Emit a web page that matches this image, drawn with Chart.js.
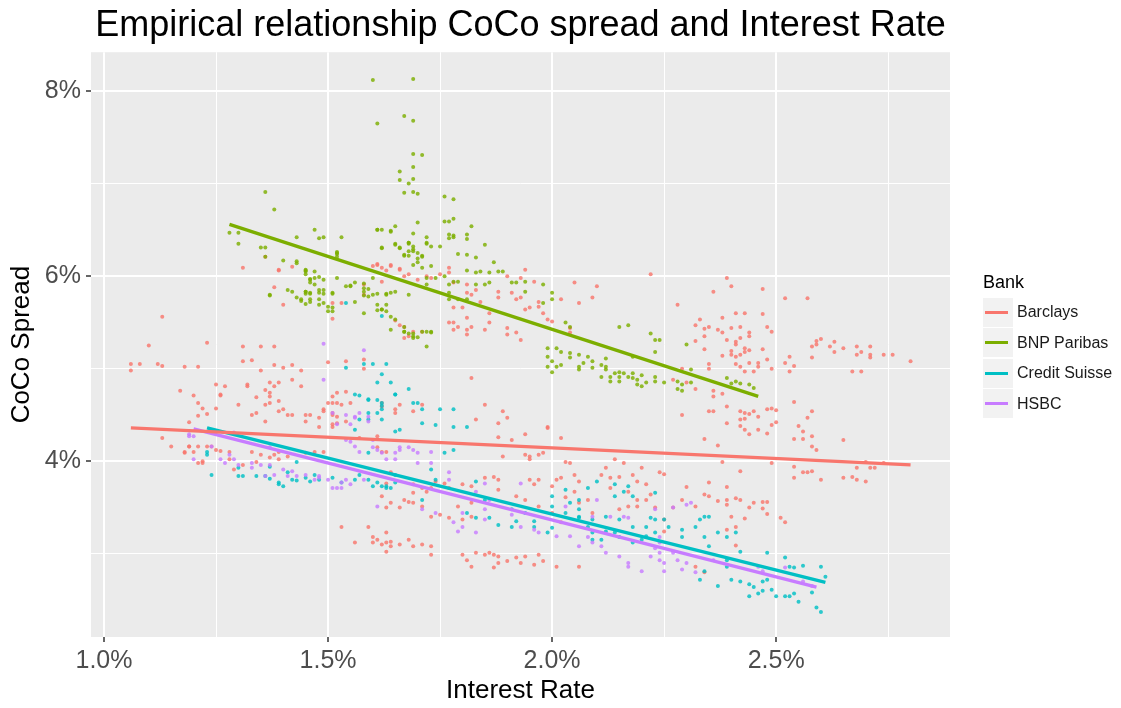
<!DOCTYPE html>
<html>
<head>
<meta charset="utf-8">
<title>CoCo spread and Interest Rate</title>
<script src="https://cdn.jsdelivr.net/npm/chart.js@4.4.1/dist/chart.umd.min.js"></script>
<style>
  html, body { margin: 0; padding: 0; background: #fff; }
  body { width: 1121px; height: 708px; position: relative; overflow: hidden; font-family: "Liberation Sans", Arial, sans-serif; }
  #wrap { position: absolute; left: 0; top: 0; width: 1121px; height: 708px; }
  #legend { position: absolute; left: 983px; top: 271px; }
  .legend-title { font-size: 18px; color: #000; height: 26px; line-height: 22px; }
  .legend-item { height: 30.5px; display: flex; align-items: center; }
  .legend-key { width: 30px; height: 29px; background: #F2F2F2; position: relative; margin-right: 4px; }
  .legend-key span { position: absolute; left: 2px; width: 23px; top: 13px; height: 3px; }
  .legend-label { font-size: 16px; color: #1a1a1a; }
</style>
</head>
<body>
<div id="wrap"><canvas id="cocoChart"></canvas></div>
<div id="legend"></div>
<script>
// axis ticks
const xTickValues = [1.0, 1.25, 1.5, 1.75, 2.0, 2.25, 2.5, 2.75];
const xTickLabels = ["1.0%", "", "1.5%", "", "2.0%", "", "2.5%", ""];
const yTickValues = [3, 4, 5, 6, 7, 8];
const yTickLabels = ["", "4%", "", "6%", "", "8%"];

const bankNames = ["Barclays", "BNP Paribas", "Credit Suisse", "HSBC"];
const bankColors = ["#F8766D", "#7CAE00", "#00BFC4", "#C77CFF"];
const pointColors = ["rgba(248,118,109,0.82)", "rgba(124,174,0,0.82)", "rgba(0,191,196,0.82)", "rgba(199,124,255,0.82)"];

// [interest rate %, coco spread %]
const barclaysPoints = [
  [1.13,5.56],[1.10,5.25],[1.06,5.05],[1.08,5.05],[1.06,4.98],[1.12,5.05],[1.13,5.03],[1.18,5.02],[1.21,5.02],[1.23,5.28],
  [1.17,4.76],[1.20,4.71],[1.21,4.63],[1.22,4.57],[1.23,4.51],[1.25,4.57],[1.21,4.49],[1.19,4.42],[1.25,4.83],[1.27,4.81],
  [1.26,4.71],[1.31,5.24],[1.31,5.08],[1.33,5.09],[1.35,5.24],[1.38,5.24],[1.38,5.04],[1.40,5.01],[1.42,5.04],[1.44,4.98],
  [1.35,4.98],[1.37,4.85],[1.38,4.81],[1.39,4.85],[1.42,4.88],[1.44,4.81],[1.36,4.77],[1.37,4.70],[1.32,4.81],[1.30,4.61],
  [1.34,4.69],[1.36,4.61],[1.37,4.63],[1.40,4.56],[1.42,4.50],[1.33,4.50],[1.36,4.43],[1.45,4.50],[1.46,4.50],[1.45,4.43],
  [1.48,4.47],[1.49,4.56],[1.50,4.63],[1.51,4.70],[1.52,4.63],[1.55,4.63],[1.54,4.75],[1.51,4.52],[1.52,4.48],[1.51,4.40],
  [1.51,5.71],[1.51,5.54],[1.40,5.69],[1.38,5.88],[1.31,6.09],[1.39,6.06],[1.42,6.10],[1.36,6.21],[1.54,5.08],[1.58,5.00],
  [1.61,6.12],[1.19,4.16],[1.20,4.10],[1.24,4.16],[1.25,4.12],[1.15,4.16],[1.13,4.25],[1.18,4.09],[1.22,4.00],[1.26,4.72],
  [1.32,4.83],[1.34,4.52],[1.37,4.74],[1.39,4.65],[1.39,4.54],[1.41,4.50],[1.48,4.37],[1.49,4.54],[1.51,4.63],[1.52,4.74],
  [1.53,4.61],[1.51,4.50],[1.18,4.10],[1.19,4.16],[1.21,4.16],[1.21,3.98],[1.22,3.98],[1.23,4.16],[1.26,4.11],[1.28,4.02],
  [1.28,4.10],[1.29,3.91],[1.31,3.96],[1.33,4.10],[1.34,3.99],[1.35,4.07],[1.37,4.04],[1.38,4.07],[1.39,4.02],[1.39,4.10],
  [1.41,4.05],[1.45,4.09],[1.47,4.10],[1.49,4.10],[1.51,4.37],[1.52,4.41],[1.54,4.43],[1.61,4.15],[1.62,3.62],[1.64,3.55],
  [1.59,3.29],[1.61,3.15],[1.63,3.12],[1.64,3.08],[1.60,3.12],[1.56,3.12],[1.63,3.02],[1.53,3.29],[1.60,3.18],[1.62,3.10],
  [1.63,3.23],[1.57,4.25],[1.61,4.27],[1.63,4.10],[1.66,4.61],[1.65,4.52],[1.69,4.54],[1.71,4.61],[1.83,4.45],[1.85,4.61],
  [1.88,4.41],[1.89,4.54],[1.90,4.47],[1.88,4.26],[1.91,4.23],[1.99,4.37],[2.02,4.25],[1.94,4.07],[1.95,4.05],[1.97,4.07],
  [1.98,4.09],[1.95,4.02],[1.89,4.05],[2.03,3.99],[2.04,3.98],[2.14,4.02],[2.16,3.98],[2.20,3.93],[2.24,3.88],[2.12,3.93],
  [2.11,3.85],[2.06,3.78],[2.05,3.85],[2.02,3.82],[2.01,3.80],[2.00,3.73],[1.97,3.80],[1.95,3.80],[1.96,3.75],[1.88,3.80],
  [1.87,3.83],[1.85,3.82],[1.82,3.73],[1.80,3.75],[1.77,3.71],[1.76,3.76],[1.74,3.78],[1.73,3.71],[1.72,3.67],[1.71,3.71],
  [1.69,3.75],[1.69,3.66],[1.67,3.58],[1.68,3.56],[1.69,3.55],[1.66,3.50],[1.71,3.51],[1.73,3.40],[1.75,3.42],[1.77,3.39],
  [1.80,3.37],[1.82,3.40],[1.82,3.55],[1.79,3.51],[1.88,3.69],[1.92,3.62],[1.94,3.58],[1.97,3.51],[2.00,3.44],[2.02,3.34],
  [2.09,3.44],[2.15,3.48],[2.17,3.51],[2.19,3.51],[2.21,3.58],[1.64,3.13],[1.66,3.10],[1.68,3.15],[1.69,3.08],[1.71,3.10],
  [1.73,2.99],[1.73,3.08],[1.80,2.99],[1.81,2.93],[1.83,3.01],[1.82,2.86],[1.85,2.99],[1.86,3.01],[1.87,2.99],[1.87,2.85],
  [1.88,2.90],[1.88,2.97],[1.90,2.92],[1.92,2.96],[1.93,2.90],[1.94,2.97],[1.96,2.88],[1.97,2.99],[1.98,2.92],[2.01,2.86],
  [2.06,2.86],[1.62,4.10],[1.64,3.88],[1.63,3.76],[1.63,3.50],[2.22,6.02],[2.39,5.98],[2.40,5.89],[2.36,5.83],[2.47,5.86],
  [2.28,5.69],[2.52,5.76],[2.57,5.76],[2.33,5.53],[2.38,5.55],[2.32,5.47],[2.34,5.43],[2.35,5.45],[2.37,5.42],[2.41,5.60],
  [2.43,5.60],[2.47,5.59],[2.40,5.44],[2.42,5.45],[2.44,5.39],[2.48,5.45],[2.49,5.40],[2.38,5.39],[2.34,5.35],[2.39,5.31],
  [2.42,5.33],[2.41,5.29],[2.41,5.26],[2.44,5.35],[2.32,5.30],[2.34,5.21],[2.40,5.19],[2.43,5.22],[2.44,5.20],[2.47,5.21],
  [2.38,5.14],[2.40,5.15],[2.41,5.13],[2.42,5.15],[2.43,5.18],[2.41,5.05],[2.42,5.02],[2.44,5.06],[2.46,5.06],[2.46,5.02],
  [2.45,4.97],[2.43,4.97],[2.48,5.10],[2.49,5.00],[2.35,5.05],[2.35,5.00],[2.58,5.24],[2.59,5.30],[2.60,5.32],[2.59,5.26],
  [2.62,5.24],[2.63,5.29],[2.65,5.22],[2.63,5.18],[2.68,5.24],[2.71,5.24],[2.69,5.18],[2.68,5.15],[2.71,5.12],[2.71,5.15],
  [2.74,5.15],[2.76,5.15],[2.80,5.08],[2.58,5.12],[2.53,5.13],[2.52,5.06],[2.54,5.03],[2.53,4.97],[2.67,4.97],[2.69,4.97],
  [2.29,5.00],[2.27,4.88],[2.30,4.85],[2.32,4.78],[2.36,4.70],[2.36,4.76],[2.38,4.73],[2.39,4.59],[2.35,4.54],[2.36,4.54],
  [2.29,4.50],[2.42,4.54],[2.43,4.52],[2.44,4.51],[2.45,4.54],[2.46,4.48],[2.42,4.45],[2.43,4.46],[2.48,4.56],[2.49,4.57],
  [2.50,4.55],[2.54,4.64],[2.58,4.54],[2.57,4.47],[2.39,4.41],[2.42,4.38],[2.49,4.39],[2.50,4.42],[2.55,4.38],[2.43,4.34],
  [2.44,4.29],[2.46,4.34],[2.48,4.30],[2.56,4.32],[2.54,4.24],[2.56,4.24],[2.58,4.27],[2.65,4.23],[2.34,4.24],[2.37,4.17],
  [2.58,4.16],[2.59,4.12],[2.38,3.99],[2.49,3.98],[2.54,3.94],[2.56,3.88],[2.57,3.88],[2.58,3.89],[2.54,3.82],[2.60,3.80],
  [2.65,3.82],[2.67,3.83],[2.68,3.80],[2.70,3.78],[2.68,3.93],[2.71,3.93],[2.72,3.93],[2.74,3.98],[2.70,3.99],[2.42,3.89],
  [2.25,3.86],[2.35,3.77],[2.30,3.72],[2.39,3.72],[2.34,3.64],[2.35,3.62],[2.37,3.57],[2.39,3.58],[2.39,3.53],[2.32,3.51],
  [2.41,3.60],[2.42,3.58],[2.44,3.50],[2.45,3.55],[2.47,3.56],[2.48,3.56],[2.47,3.49],[2.48,3.43],[2.43,3.38],[2.40,3.40],
  [2.41,3.29],[2.39,3.26],[2.51,3.39],[2.52,3.34],[2.41,3.09],[2.29,3.58],[2.27,3.50],[2.23,3.50],[2.25,3.37],[2.25,3.24],
  [2.34,2.80],[2.32,2.86],[1.39,6.07],[1.50,5.07],[1.58,5.10],[1.60,6.11],[1.61,6.13],[1.64,6.11],[1.62,6.09],[1.63,6.06],
  [1.66,6.08],[1.67,6.00],[1.68,6.02],[1.70,5.96],[1.72,6.00],[1.73,5.98],[1.77,6.09],[1.62,5.94],[1.58,5.91],[1.58,5.80],
  [1.53,5.71],[1.65,5.52],[1.66,5.47],[1.67,5.45],[1.67,5.33],[1.68,5.35],[1.71,5.40],[1.77,5.50],[1.64,6.12],[1.66,6.07],
  [1.75,6.02],[1.77,6.04],[1.78,5.93],[1.81,5.91],[1.83,5.85],[1.81,5.82],[1.82,5.80],[1.84,5.72],[1.80,5.66],[1.78,5.66],
  [1.86,5.60],[1.88,5.83],[1.88,5.77],[1.90,6.00],[1.91,5.82],[1.92,5.75],[1.94,6.07],[1.93,5.98],[1.96,5.94],[1.93,5.77],
  [1.94,5.64],[1.95,5.66],[1.97,5.67],[1.97,5.72],[1.98,5.60],[1.99,5.53],[2.00,5.51],[2.02,5.75],[2.05,5.93],[2.06,5.71],
  [2.09,5.77],[2.10,5.89],[2.04,5.44],[2.04,5.39],[1.92,5.39],[1.90,5.37],[1.93,5.31],[1.90,5.44],[1.85,5.42],[1.82,5.45],
  [1.81,5.42],[1.81,5.37],[1.79,5.45],[1.78,5.42],[1.78,5.50],[1.81,5.55],[1.86,5.50],[1.69,5.40],[1.82,4.90],[1.62,4.63],
  [1.65,4.56],[1.62,4.59],[1.94,4.29],[1.99,4.36],[2.13,3.82],[2.15,3.83],[2.18,3.85],[2.19,3.78],[2.21,3.75],[2.13,3.71],
  [2.17,3.67],[2.19,3.58],[2.22,3.64],[2.05,3.67],[2.03,3.61],[2.06,3.55],[2.08,3.58]
];

const bnpPoints = [
  [1.60,8.12],[1.69,8.13],[1.67,7.73],[1.69,7.68],[1.61,7.65],[1.69,7.32],[1.71,7.31],[1.66,7.13],[1.69,7.18],[1.66,7.04],
  [1.68,7.00],[1.69,7.05],[1.67,6.90],[1.69,6.91],[1.70,6.89],[1.76,6.86],[1.77,6.59],[1.70,6.58],[1.65,6.54],[1.61,6.50],
  [1.64,6.48],[1.47,6.50],[1.48,6.41],[1.49,6.42],[1.53,6.42],[1.69,6.46],[1.72,6.35],[1.73,6.32],[1.75,6.32],[1.77,6.41],
  [1.62,6.30],[1.65,6.34],[1.66,6.30],[1.66,6.31],[1.68,6.27],[1.68,6.35],[1.69,6.32],[1.67,6.22],[1.68,6.22],[1.69,6.27],
  [1.70,6.19],[1.71,6.22],[1.69,6.12],[1.71,6.09],[1.52,6.24],[1.52,6.21],[1.45,6.06],[1.47,6.05],[1.45,6.02],[1.47,5.98],
  [1.46,5.96],[1.47,5.91],[1.49,5.96],[1.45,5.83],[1.45,5.81],[1.46,5.81],[1.48,5.85],[1.49,5.81],[1.44,5.75],[1.45,5.70],
  [1.46,5.75],[1.48,5.75],[1.48,5.69],[1.50,5.67],[1.50,5.62],[1.51,5.66],[1.51,5.81],[1.52,5.98],[1.55,5.90],[1.56,5.93],
  [1.56,5.72],[1.58,5.92],[1.58,5.87],[1.58,5.79],[1.58,5.60],[1.59,5.86],[1.60,5.98],[1.60,5.80],[1.61,5.81],[1.61,5.69],
  [1.61,5.63],[1.63,5.62],[1.64,5.56],[1.64,5.42],[1.63,5.81],[1.64,5.82],[1.65,5.83],[1.68,5.80],[1.67,5.40],[1.68,5.38],
  [1.69,5.33],[1.69,5.38],[1.72,5.40],[1.73,5.40],[1.72,5.24],[1.72,5.91],[1.72,5.98],[1.74,5.98],[1.76,6.00],[1.77,5.91],
  [1.72,6.42],[1.77,6.45],[1.78,6.42],[1.81,6.45],[1.81,6.40],[1.85,6.34],[1.79,6.24],[1.81,6.23],[1.83,6.20],[1.87,6.15],
  [1.62,6.31],[1.65,6.35],[1.68,6.36],[1.69,6.29],[1.67,6.23],[1.70,6.25],[1.71,6.21],[1.70,6.15],[1.73,6.11],[1.81,6.06],
  [1.83,6.04],[1.84,6.05],[1.86,6.04],[1.88,6.05],[1.89,6.05],[1.78,5.94],[1.79,5.94],[1.83,5.91],[1.85,5.91],[1.86,5.93],
  [1.91,5.93],[1.92,5.93],[1.94,5.94],[1.94,5.83],[1.98,5.91],[2.00,5.82],[1.98,5.71],[1.77,5.82],[1.77,5.75],[1.79,5.75],
  [1.81,5.75],[1.63,5.80],[1.63,5.69],[1.62,5.64],[1.65,5.53],[1.67,5.45],[1.67,5.40],[1.69,5.35],[1.70,5.34],[1.71,5.40],
  [1.73,5.39],[2.00,5.75],[2.03,5.50],[2.04,5.45],[1.99,5.22],[2.01,5.22],[2.02,5.18],[2.04,5.17],[1.99,5.13],[2.00,5.08],
  [1.99,5.02],[2.01,5.02],[2.02,5.04],[2.00,4.96],[2.04,5.12],[2.06,5.15],[2.08,5.13],[2.07,5.06],[2.06,5.02],[2.06,4.99],
  [2.09,5.08],[2.09,5.01],[2.11,5.04],[2.12,4.99],[2.12,5.02],[2.11,4.91],[2.13,4.91],[2.14,4.95],[2.15,4.91],[2.15,4.96],
  [2.16,4.95],[2.17,4.91],[2.18,4.90],[2.18,4.95],[2.19,4.88],[2.20,4.93],[2.21,4.85],[2.23,4.91],[2.23,4.86],[2.15,5.45],
  [2.17,5.47],[2.22,5.38],[2.23,5.31],[2.12,5.11],[2.18,5.13],[2.13,4.86],[2.15,4.86],[2.19,4.83],[2.20,4.81],[2.24,5.31],
  [2.23,5.18],[2.30,5.26],[2.25,4.85],[2.28,4.86],[2.29,4.83],[2.28,4.78],[2.31,4.99],[2.31,4.85],[2.39,4.90],[2.40,4.84],
  [2.41,4.86],[2.42,4.84],[2.44,4.83],[2.45,4.79],[2.29,4.76],[1.36,6.21],[1.40,6.17],[1.43,6.14],[1.45,6.05],[1.46,5.97],
  [1.48,5.99],[1.46,5.93],[1.41,5.85],[1.42,5.83],[1.37,5.80],[1.45,5.83],[1.46,5.82],[1.48,5.82],[1.49,5.85],[1.43,5.77],
  [1.44,5.73],[1.46,5.72],[1.49,5.71],[1.51,5.62],[1.51,5.82],[1.55,5.89],[1.58,5.83],[1.59,5.78],[1.62,5.64],[1.52,6.25],
  [1.36,6.91],[1.38,6.72],[1.28,6.47],[1.30,6.47],[1.30,6.35],[1.35,6.31],[1.36,6.31],[1.43,6.42],[1.61,6.50],[1.43,6.16],
  [1.37,5.79],[1.45,6.07],[1.52,6.26],[1.54,5.89],[1.78,6.83],[1.76,6.59],[1.78,6.62],[1.82,6.54],[1.78,6.44],[1.64,6.49],
  [1.62,6.50],[1.72,6.36],[1.68,6.36]
];

const csPoints = [
  [1.54,5.01],[1.58,5.05],[1.60,5.05],[1.63,5.05],[1.61,4.85],[1.57,4.71],[1.59,4.67],[1.62,4.60],[1.61,4.52],[1.59,4.45],
  [1.62,4.45],[1.62,5.57],[1.54,5.71],[1.62,4.94],[1.64,4.85],[1.65,4.72],[1.68,4.78],[1.70,4.63],[1.71,4.56],[1.75,4.56],
  [1.78,4.56],[1.62,4.63],[1.69,4.63],[1.71,4.41],[1.74,4.39],[1.78,4.37],[1.81,4.37],[1.66,4.34],[1.76,4.09],[1.78,4.12],
  [1.73,3.91],[1.74,3.80],[1.83,3.78],[1.64,3.71],[1.71,3.58],[1.81,3.44],[1.86,3.39],[1.88,3.31],[1.91,3.29],[1.92,3.35],
  [1.96,3.29],[2.00,3.62],[2.04,3.55],[2.03,3.69],[2.08,3.71],[2.10,3.78],[2.14,3.75],[2.16,3.67],[2.17,3.73],[2.18,3.62],
  [2.06,3.48],[2.08,3.29],[2.09,3.23],[2.11,3.15],[2.12,3.24],[2.14,3.23],[2.15,3.18],[2.18,3.12],[2.20,3.15],[2.21,3.29],
  [2.22,3.39],[2.23,3.23],[1.99,3.23],[1.83,3.39],[1.96,3.35],[2.00,3.28],[2.06,3.40],[2.09,3.37],[2.23,3.66],[2.23,3.37],
  [2.25,3.37],[2.26,3.29],[2.29,3.26],[2.29,3.18],[2.32,3.29],[2.33,3.37],[2.34,3.40],[2.35,3.40],[2.34,3.18],[2.35,3.08],
  [2.37,3.23],[2.39,3.18],[2.41,3.23],[2.42,3.02],[2.39,2.93],[2.39,2.86],[2.40,2.72],[2.37,2.65],[2.42,2.70],[2.44,2.67],
  [2.45,2.64],[2.46,2.57],[2.44,2.54],[2.47,2.70],[2.48,2.72],[2.47,2.60],[2.49,2.61],[2.50,2.54],[2.52,2.54],[2.53,2.54],
  [2.54,2.57],[2.55,2.48],[2.52,2.96],[2.48,3.01],[2.53,2.86],[2.54,2.85],[2.56,2.87],[2.60,2.86],[2.58,2.58],[2.61,2.75],
  [2.59,2.42],[2.60,2.37],[2.34,2.81],[2.33,2.72],[1.23,4.10],[1.23,4.07],[1.24,3.85],[1.30,3.93],[1.31,3.84],[1.34,3.84],
  [1.36,3.84],[1.37,3.81],[1.39,3.77],[1.39,3.75],[1.40,3.73],[1.42,3.80],[1.43,3.79],[1.45,3.82],[1.47,3.85],[1.48,3.80],
  [1.51,3.82],[1.53,3.77],[1.56,3.80],[1.57,3.85],[1.59,3.80],[1.60,3.73],[1.62,3.73],[1.63,3.73],[1.65,3.77],[1.37,3.94],
  [1.41,3.88],[1.43,3.99],[1.56,4.72],[1.59,4.66],[1.61,4.66],[1.62,4.56],[1.59,4.52],[1.57,4.45],[1.56,4.34],[1.65,4.72],
  [1.65,4.32],[1.59,4.09],[1.65,3.85],[1.30,3.84],[1.46,3.78],[1.61,3.77],[1.63,3.71],[1.85,3.58],[1.91,3.48],[1.94,3.44],
  [2.00,3.51],[2.03,3.44],[2.06,3.39],[2.12,3.40],[2.15,3.37],[2.18,3.29],[2.21,3.19],[2.09,3.15],[2.06,3.58],[2.14,3.62]
];

const hsbcPoints = [
  [1.19,4.27],[1.20,4.02],[1.26,4.02],[1.27,3.98],[1.30,3.96],[1.33,3.93],[1.35,3.96],[1.37,3.96],[1.38,3.85],[1.40,3.91],
  [1.41,3.84],[1.43,3.84],[1.45,3.85],[1.47,3.80],[1.48,3.84],[1.50,3.80],[1.51,3.71],[1.52,3.71],[1.53,3.71],[1.54,3.80],
  [1.55,3.75],[1.58,3.80],[1.61,3.51],[1.29,4.31],[1.37,4.15],[1.51,4.52],[1.54,4.50],[1.55,4.40],[1.56,4.47],[1.57,4.52],
  [1.59,4.48],[1.59,4.43],[1.60,4.15],[1.61,4.12],[1.63,4.02],[1.65,4.02],[1.66,4.15],[1.54,4.23],[1.56,4.16],[1.57,4.10],
  [1.49,5.27],[1.58,5.20],[1.49,4.88],[1.52,4.40],[1.56,4.48],[1.60,4.23],[1.55,4.21],[1.19,4.29],[1.28,4.07],[1.62,4.09],
  [1.65,4.09],[1.68,4.15],[1.69,4.12],[1.70,4.09],[1.73,4.10],[1.70,3.98],[1.74,3.44],[1.78,3.34],[1.80,3.29],[1.79,3.24],
  [1.83,3.23],[1.85,3.37],[1.85,3.48],[1.91,3.42],[1.93,3.29],[1.96,3.26],[1.97,3.23],[2.01,3.19],[2.04,3.19],[2.06,3.08],
  [2.08,3.18],[2.09,3.12],[2.11,3.08],[2.12,3.01],[2.15,2.97],[2.17,2.90],[2.17,2.86],[2.20,2.81],[2.22,2.97],[2.24,3.12],
  [1.86,3.58],[1.80,3.44],[1.93,3.76],[2.03,3.51],[2.10,3.58],[2.16,3.40],[2.17,3.39],[2.23,3.48],[2.09,3.40],[2.13,3.40],
  [1.85,3.76],[1.83,3.67],[2.27,3.50],[2.30,3.53],[2.31,3.55],[2.23,3.06],[2.24,3.01],[2.24,2.93],[2.25,2.90],[2.25,2.81],
  [2.27,3.01],[2.28,2.93],[2.29,2.83],[2.30,2.90],[2.32,2.80],[2.36,2.93],[2.46,2.86],[2.47,2.81],[2.52,2.85],[2.56,2.70],
  [2.58,2.65],[2.24,3.18],[1.20,4.27],[1.24,4.16],[1.29,4.02],[1.33,3.98],[1.36,3.84],[1.42,3.89],[1.48,3.82],[1.53,3.77],
  [1.66,4.12],[1.77,3.88],[1.77,3.80],[1.73,3.98],[1.71,3.48]
];

// linear fit end points
const barclaysFit = [[1.06, 4.36], [2.80, 3.96]];
const bnpFit = [[1.28, 6.56], [2.46, 4.70]];
const csFit = [[1.23, 4.36], [2.61, 2.69]];
const hsbcFit = [[1.20, 4.35], [2.59, 2.64]];

const allPoints = [barclaysPoints, bnpPoints, csPoints, hsbcPoints];
const allFits = [barclaysFit, bnpFit, csFit, hsbcFit];

const toXY = (arr) => arr.map((p) => ({ x: p[0], y: p[1] }));

const datasets = [];

// fitted lines on top
allFits.forEach((fit, i) => {
  datasets.push({
    label: bankNames[i] + " fit",
    data: toXY(fit),
    showLine: true,
    borderColor: bankColors[i],
    borderWidth: 3.4,
    pointRadius: 0,
    order: 1 + i
  });
});

allPoints.forEach((pts, i) => {
  datasets.push({
    label: bankNames[i],
    data: toXY(pts),
    pointRadius: 2,
    pointBorderWidth: 0,
    pointBackgroundColor: pointColors[i],
    pointBorderColor: pointColors[i],
    order: 20 - i
  });
});

const panelBackground = {
  id: "panelBackground",
  beforeDraw(chart) {
    const { ctx, chartArea } = chart;
    ctx.save();
    ctx.fillStyle = "#EBEBEB";
    ctx.fillRect(chartArea.left, chartArea.top, chartArea.right - chartArea.left, chartArea.bottom - chartArea.top);
    ctx.restore();
  }
};

const fontFamily = '"Liberation Sans", Arial, sans-serif';

function isMajorX(v) {
  return xTickLabels[xTickValues.indexOf(v)] !== "";
}
function isMajorY(v) {
  return yTickLabels[yTickValues.indexOf(v)] !== "";
}

new Chart(document.getElementById("cocoChart"), {
  type: "scatter",
  data: { datasets: datasets },
  plugins: [panelBackground],
  options: {
    responsive: true,
    maintainAspectRatio: false,
    animation: false,
    layout: { padding: { left: 0, right: 171, top: 0, bottom: 0 } },
    plugins: {
      legend: { display: false },
      tooltip: { enabled: false },
      title: {
        display: true,
        text: "Empirical relationship CoCo spread and Interest Rate",
        fullSize: false,
        color: "#000",
        font: { family: fontFamily, size: 36, weight: "normal" },
        padding: { top: 4, bottom: 5 }
      }
    },
    scales: {
      x: {
        type: "linear",
        min: 0.971,
        max: 2.888,
        afterBuildTicks: (scale) => {
          scale.ticks = xTickValues.map((v) => ({ value: v }));
        },
        afterFit: (scale) => {
          scale.height = 71;
        },
        border: { display: false },
        grid: {
          color: "#FFFFFF",
          lineWidth: (ctx) => (ctx.tick && isMajorX(ctx.tick.value) ? 2 : 1),
          tickColor: (ctx) => (ctx.tick && isMajorX(ctx.tick.value) ? "#333333" : "rgba(0,0,0,0)"),
          tickLength: 5,
          tickWidth: 1.5
        },
        ticks: {
          autoSkip: false,
          maxRotation: 0,
          padding: 4,
          color: "#4D4D4D",
          font: { family: fontFamily, size: 25 },
          callback: (value) => xTickLabels[xTickValues.indexOf(value)]
        },
        title: {
          display: true,
          text: "Interest Rate",
          color: "#000",
          font: { family: fontFamily, size: 26 },
          padding: { top: 0, bottom: 2 }
        }
      },
      y: {
        type: "linear",
        min: 2.1,
        max: 8.42,
        afterBuildTicks: (scale) => {
          scale.ticks = yTickValues.map((v) => ({ value: v }));
        },
        afterFit: (scale) => {
          scale.width = 91;
        },
        border: { display: false },
        grid: {
          color: "#FFFFFF",
          lineWidth: (ctx) => (ctx.tick && isMajorY(ctx.tick.value) ? 2 : 1),
          tickColor: (ctx) => (ctx.tick && isMajorY(ctx.tick.value) ? "#333333" : "rgba(0,0,0,0)"),
          tickLength: 5,
          tickWidth: 1.5
        },
        ticks: {
          padding: 5,
          color: "#4D4D4D",
          font: { family: fontFamily, size: 25 },
          callback: (value) => yTickLabels[yTickValues.indexOf(value)]
        },
        title: {
          display: true,
          text: "CoCo Spread",
          color: "#000",
          font: { family: fontFamily, size: 26 },
          padding: { top: 6, bottom: 0 }
        }
      }
    }
  }
});

// legend
const legendEl = document.getElementById("legend");
const legendTitle = document.createElement("div");
legendTitle.className = "legend-title";
legendTitle.textContent = "Bank";
legendEl.appendChild(legendTitle);

bankNames.forEach((name, i) => {
  const item = document.createElement("div");
  item.className = "legend-item";

  const key = document.createElement("div");
  key.className = "legend-key";
  const line = document.createElement("span");
  line.style.background = bankColors[i];
  key.appendChild(line);

  const label = document.createElement("div");
  label.className = "legend-label";
  label.textContent = name;

  item.appendChild(key);
  item.appendChild(label);
  legendEl.appendChild(item);
});
</script>
</body>
</html>
